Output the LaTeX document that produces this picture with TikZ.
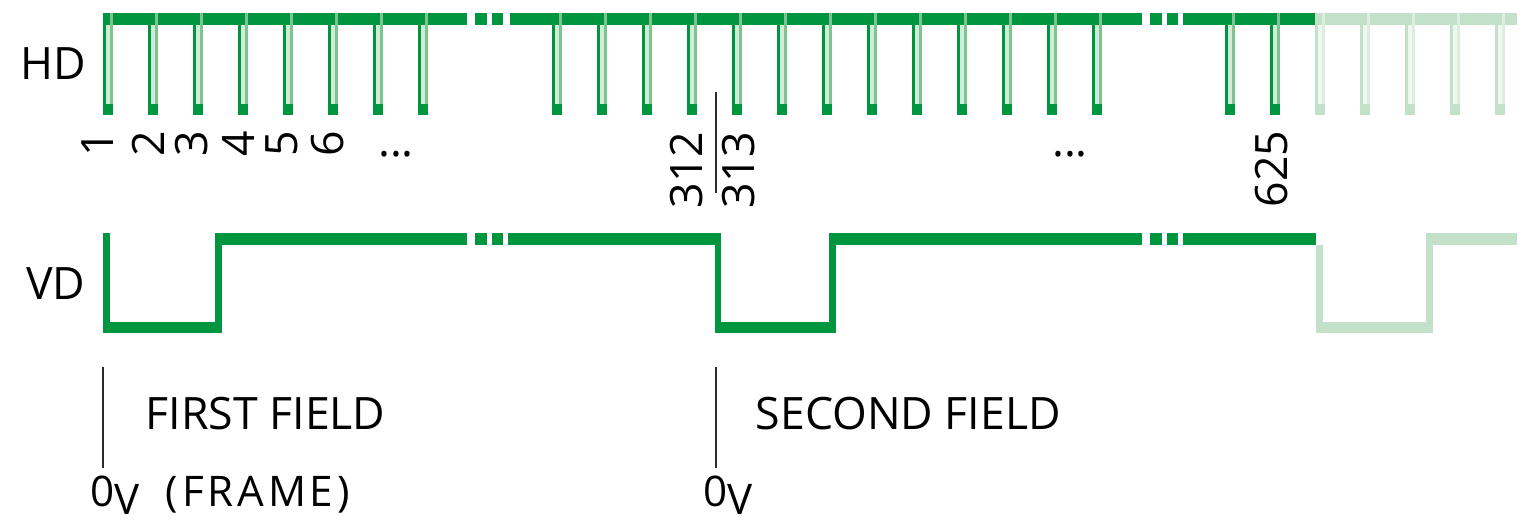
\documentclass[tikz,border=0pt]{standalone}
\usepackage{fontspec}
\setmainfont{Open Sans}
\usetikzlibrary{positioning}
\definecolor{SyncGreen}{HTML}{009640}
\definecolor{SyncEdge}{HTML}{7CC490}
\definecolor{SyncPale}{HTML}{D2EBD8}
\definecolor{FadeGreen}{HTML}{C2E1C8}
\definecolor{FadeEdge}{HTML}{DCEEE0}
\definecolor{FadePale}{HTML}{EEF7F0}
\definecolor{MarkGray}{HTML}{2B2B2B}
\tikzset{
  band/.style={draw=SyncGreen, line width=1.15mm},
  fadeband/.style={draw=FadeGreen, line width=1.15mm},
  vedge/.style={draw=SyncGreen, line width=0.65mm},
  fadevedge/.style={draw=FadeGreen, line width=0.65mm},
  siglabel/.style={font=\fontsize{12.7}{15}\selectfont, inner sep=0pt},
  linenum/.style={font=\fontsize{12.7}{15}\selectfont, inner sep=0pt, rotate=90, anchor=east},
  fieldlabel/.style={font=\fontsize{12.7}{15}\selectfont, inner sep=0pt, anchor=base west},
  zerolabel/.style={font=\fontsize{12}{14}\selectfont, inner sep=0pt, anchor=base west},
  marker/.style={draw=MarkGray, line width=0.2mm}
}
% one HD pulse: left x, edge colour, rising colour, inside colour
\newcommand{\hdpulse}[4]{%
  \fill[#4] (#1,25) rectangle (#1+10,104);
  \fill[#2] (#1,13) rectangle (#1+2.6,115);
  \fill[#3] (#1+7.4,13) rectangle (#1+10,104);
  \fill[#2] (#1,104) rectangle (#1+10,115);
}
% the two squares where a long line is cut
\newcommand{\gapdots}[3]{%
  \fill[#3] (#1+8,#2) rectangle (#1+20,#2+12);
  \fill[#3] (#1+25,#2) rectangle (#1+36,#2+12);
}
\newcommand{\subv}{\raisebox{-0.8mm}{V}}

\begin{document}
\begin{tikzpicture}[x=0.1mm, y=-0.1mm]
\useasboundingbox (0,0) rectangle (1532,522);

% HD
\node[siglabel, anchor=east] (hd) at (87,64) {HD};
\draw[band] (103,19) -- (467,19);
\draw[band] (510,19) -- (1142,19);
\draw[band] (1183,19) -- (1315,19);
\draw[fadeband] (1315,19) -- (1517,19);
\gapdots{467}{13}{SyncGreen}
\gapdots{1142}{13}{SyncGreen}
\foreach \x in {103,148,...,418} {\hdpulse{\x}{SyncGreen}{SyncEdge}{SyncPale}}
\foreach \x in {552,597,...,1092} {\hdpulse{\x}{SyncGreen}{SyncEdge}{SyncPale}}
\foreach \x in {1225,1270} {\hdpulse{\x}{SyncGreen}{SyncEdge}{SyncPale}}
\foreach \x in {1315,1360,...,1495} {\hdpulse{\x}{FadeGreen}{FadeEdge}{FadePale}}

% line numbers
\foreach \x/\n in {98/1,148/2,192/3,238/4,282/5,328/6}
  \node[linenum] (n\n) at (\x,130) {\n};
\node[linenum] (n312) at (687,131) {312};
\node[linenum] (n313) at (739,131) {313};
\node[linenum] (n625) at (1272,130) {625};
\node[siglabel] (dots1) at (396,154) {...};
\node[siglabel] (dots2) at (1070,154) {...};
\coordinate (splittop) at (716,92);
\coordinate (splitbot) at (716,193);
\draw[marker] (splittop) -- (splitbot);

% VD
\node[siglabel, anchor=east] (vd) at (86,284) {VD};
\draw[vedge] (106.3,233) -- (106.3,333);
\draw[band] (103,327.5) -- (222,327.5);
\draw[vedge] (218.7,333) -- (218.7,233);
\draw[band] (215,239) -- (467,239);
\gapdots{467}{233}{SyncGreen}
\draw[band] (508,239) -- (721,239);
\draw[vedge] (718,233) -- (718,333);
\draw[band] (715,327.5) -- (836,327.5);
\draw[vedge] (832.7,333) -- (832.7,233);
\draw[band] (829.4,239) -- (1142,239);
\gapdots{1142}{233}{SyncGreen}
\draw[band] (1183,239) -- (1316,239);
\draw[fadevedge] (1319.3,245) -- (1319.3,333);
\draw[fadeband] (1316,327.5) -- (1433,327.5);
\draw[fadevedge] (1429.7,333) -- (1429.7,233);
\draw[fadeband] (1426.4,239) -- (1517,239);

% field marks
\coordinate (mark1top) at (103,367);
\coordinate (mark1bot) at (103,468);
\coordinate (mark2top) at (716,367);
\coordinate (mark2bot) at (716,468);
\draw[marker] (mark1top) -- (mark1bot);
\draw[marker] (mark2top) -- (mark2bot);
\node[fieldlabel] (first) at (145,429) {FIRST FIELD};
\node[fieldlabel] (second) at (755,429) {SECOND FIELD};
\node[zerolabel] (zero1) at (90,506) {0\subv\hspace{2.6mm}{\addfontfeature{LetterSpace=9}(FRAME)}};
\node[zerolabel] (zero2) at (703,506) {0\subv};
\end{tikzpicture}
\end{document}
